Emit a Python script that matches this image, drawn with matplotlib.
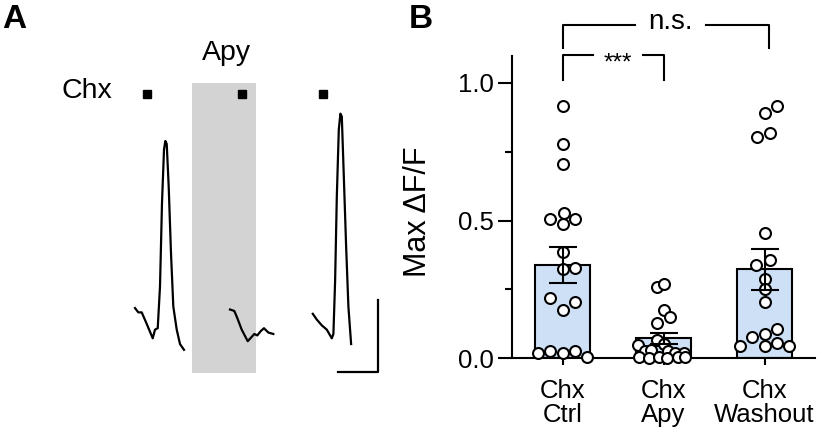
import numpy as np
import matplotlib
matplotlib.use("Agg")
import matplotlib.pyplot as plt

plt.rcParams["font.family"] = ["Liberation Sans", "DejaVu Sans"]

#%% data

# panel A: example traces (time in s from trace start, dF/F)
trace1_t = [0, 0.83, 1.68, 2.93, 4.43, 5.0, 5.68, 6.25, 6.75, 7.25, 7.58, 7.93, 8.43, 9.0, 9.58, 10.43, 11.25, 12.25]
trace1_v = [0.0, -0.03, -0.03, -0.11, -0.21, -0.15, -0.14, 0.15, 0.73, 1.10, 1.16, 1.14, 0.84, 0.38, 0.01, -0.15, -0.25, -0.29]
trace2_t = [0, 1.08, 1.83, 2.93, 4.43, 5.43, 6.08, 6.83, 7.68, 8.5, 9.58, 10.83]
trace2_v = [-0.01, -0.02, -0.07, -0.15, -0.23, -0.20, -0.18, -0.19, -0.16, -0.14, -0.17, -0.18]
trace3_t = [0, 1.0, 2.25, 3.5, 4.75, 5.15, 5.58, 6.0, 6.5, 6.9, 7.25, 7.65, 8.33, 8.9, 9.58]
trace3_v = [-0.04, -0.08, -0.12, -0.15, -0.21, -0.18, 0.19, 0.77, 1.24, 1.35, 1.33, 1.0, 0.43, 0.01, -0.25]
stim_t = [3.0, 3.0, 2.5]

# panel B: max dF/F per cell
groups = ["Chx\nCtrl", "Chx\nApy", "Chx\nWashout"]
bar_mean = [0.338, 0.071, 0.322]
bar_sem = [0.067, 0.021, 0.076]

ctrl_vals = [0.916, 0.777, 0.704, 0.507, 0.526, 0.507, 0.487, 0.387, 0.322, 0.328,
             0.217, 0.205, 0.175, 0.019, 0.025, 0.019, 0.025, 0.003]
ctrl_dx = [0, 0, 0, -0.12, 0.01, 0.12, 0, 0, 0, 0.12, -0.12, 0.12, 0, -0.24, -0.12, 0, 0.12, 0.24]

apy_vals = [0.259, 0.269, 0.175, 0.128, 0.148, 0.067, 0.047, 0.052, 0.025, 0.030,
            0.024, 0.018, 0.020, 0.003, 0.0, 0.005, 0.0, 0.002, 0.004]
apy_dx = [-0.06, 0.0, 0.0, -0.06, 0.06, -0.06, -0.25, 0.0, -0.18, -0.12,
          0.04, 0.11, 0.2, -0.24, -0.14, -0.04, 0.03, 0.14, 0.21]

wash_vals = [0.916, 0.89, 0.805, 0.82, 0.456, 0.338, 0.356, 0.286, 0.25, 0.205,
             0.105, 0.075, 0.087, 0.045, 0.045, 0.053, 0.045]
wash_dx = [0.12, 0.0, -0.07, 0.05, 0.0, -0.08, 0.05, 0.0, 0.0, 0.0,
           0.12, -0.12, 0.0, -0.24, 0.0, 0.12, 0.24]

#%% figure
fig = plt.figure(figsize=(8.26, 4.42), dpi=100)

# ---- panel A
axA = fig.add_axes([0, 0, 400 / 826, 1])
axA.set_xlim(0, 100)
axA.set_ylim(-0.93, 2.139)
axA.axis("off")

starts = [33.75, 57.5, 78.2]
traces = [(trace1_t, trace1_v), (trace2_t, trace2_v), (trace3_t, trace3_v)]

axA.axvspan(48, 64, ymin=(-0.451 + 0.93) / 3.069, ymax=(1.5625 + 0.93) / 3.069,
            color="#d3d3d3", lw=0, zorder=0)

for st, (t, v), s in zip(starts, traces, stim_t):
    axA.plot(np.array(t) + st, v, color="black", lw=1.6, zorder=2)
    axA.plot(st + s, 1.486, marker="s", ms=6, color="black", zorder=2)

# scale bar: 10 s, 0.5 dF/F
axA.plot([84.4, 94.4, 94.4], [-0.442, -0.442, 0.058], color="black", lw=1.6)

axA.text(21.6, 1.458, "Chx", fontsize=20.5, ha="center", va="baseline")
axA.text(56.75, 1.722, "Apy", fontsize=20.5, ha="center", va="baseline")

fig.text(0.003, 1 - 28 / 442, "A", fontsize=24, fontweight="bold", va="baseline")
fig.text(409 / 826, 1 - 28 / 442, "B", fontsize=24, fontweight="bold", va="baseline")

# ---- panel B
ax = fig.add_axes([512 / 826, (442 - 358) / 442, 303 / 826, (358 - 14.25) / 442])
x = np.arange(len(groups))

ax.bar(x, bar_mean, width=0.55, color="#cde0f6", edgecolor="black", linewidth=1.5, zorder=2)

for xi, vals, dx in zip(x, [ctrl_vals, apy_vals, wash_vals], [ctrl_dx, apy_dx, wash_dx]):
    ax.scatter(xi + np.array(dx), vals, s=62, facecolor="white", edgecolor="black",
               linewidth=1.5, zorder=3, clip_on=False)

ax.errorbar(x, bar_mean, yerr=bar_sem, fmt="none", ecolor="black", elinewidth=1.5,
            capsize=10, capthick=1.5, zorder=4)

ax.set_xlim(-0.5, 2.5)
ax.set_ylim(0, 1.25)
ax.spines["top"].set_visible(False)
ax.spines["right"].set_visible(False)
ax.spines["left"].set_linewidth(1.5)
ax.spines["bottom"].set_linewidth(1.5)
ax.spines["left"].set_bounds(0, 1.1)

ax.set_xticks(x)
ax.set_xticklabels(groups, linespacing=1.0)
ax.set_yticks([0, 0.5, 1.0])
ax.set_yticklabels(["0.0", "0.5", "1.0"])
ax.set_yticks([0.25, 0.75], minor=True)
ax.tick_params(axis="y", which="major", length=10, width=1.5, labelsize=18.5, pad=3)
ax.tick_params(axis="y", which="minor", length=5, width=1.5)
ax.tick_params(axis="x", length=5, width=1.5, labelsize=18.5, pad=10)

ax.set_ylabel("Max \u0394F/F", fontsize=22)
ax.yaxis.set_label_coords(-0.26, 0.425)

# significance brackets
ax.plot([0, 0, 0.72], [1.127, 1.211, 1.211], color="black", lw=1.5, clip_on=False)
ax.plot([1.425, 2.04, 2.04], [1.211, 1.211, 1.127], color="black", lw=1.5, clip_on=False)
ax.text(1.07, 1.197, "n.s.", fontsize=20, ha="center", va="baseline")

ax.plot([0, 0, 0.30], [1.011, 1.102, 1.102], color="black", lw=1.5, clip_on=False)
ax.plot([0.795, 1.0, 1.0], [1.102, 1.102, 1.011], color="black", lw=1.5, clip_on=False)
ax.text(0.547, 1.05, "***", fontsize=17.5, ha="center", va="baseline")

plt.savefig("out.png", dpi=100)
